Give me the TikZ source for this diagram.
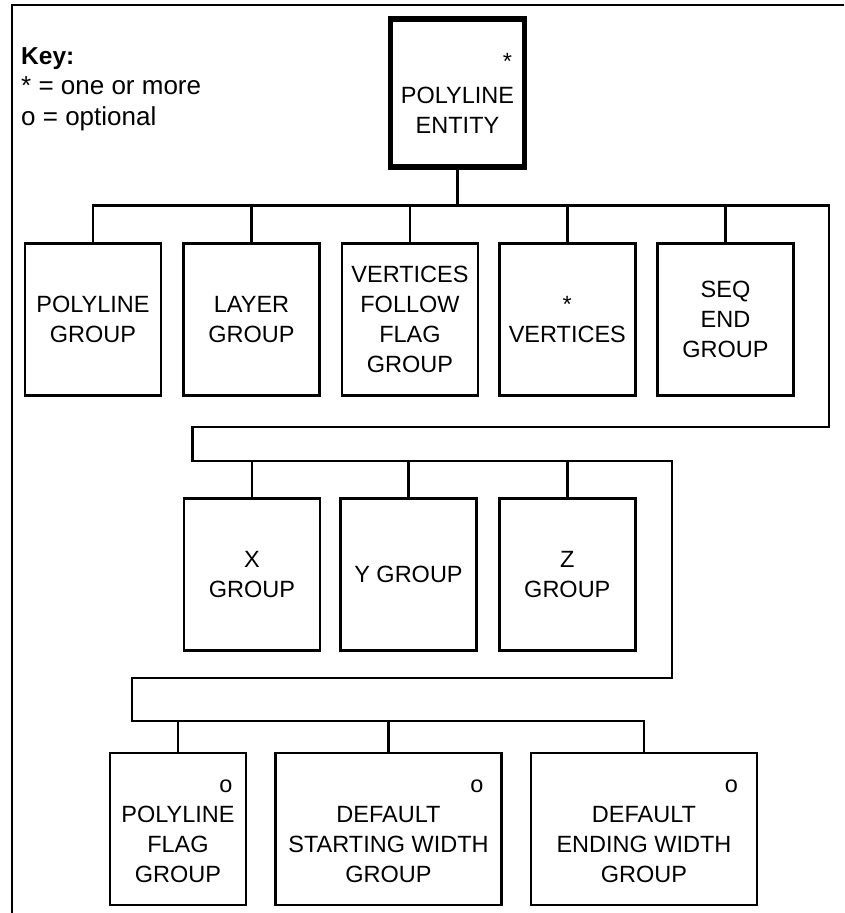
\documentclass[tikz,border=0pt]{standalone}
\usepackage{fontspec}
\setmainfont{Liberation Sans}
\newcommand\boxfont{\fontsize{23.5}{30}\selectfont}
\newcommand\keyfont{\fontsize{26}{30}\selectfont}
\newcommand\mrk[2]{\makebox[#1][r]{\vphantom{X}#2}}
\begin{document}
\begin{tikzpicture}[x=1pt,y=-1pt,
  conn/.style={line width=2.4pt},
  frame/.style={line width=2.6pt},
  box/.style={draw,line width=2.4pt,inner sep=0pt,align=center,font=\boxfont,
    minimum width=136pt,minimum height=152pt},
  wide/.style={minimum width=226pt},
  main/.style={draw,line width=5.5pt,inner sep=0pt,align=center,font=\boxfont,
    minimum width=134pt,minimum height=148pt},
  keytext/.style={anchor=base west,inner sep=0pt,font=\keyfont}]
\useasboundingbox (0,0) rectangle (844,913);
% outer frame
\draw[frame] (12,913) -- (12,5) -- (844,5);
% key
\node[keytext,font=\fontsize{24.5}{30}\selectfont\bfseries] (key) at (21,64) {Key:};
\node[keytext] (keyA) at (21,94.5) {* = one or more};
\node[keytext] (keyB) at (21,125) {o = optional};
% top
\node[main] (ent) at (457.5,93) {\mrk{109pt}{*}\\[4pt]POLYLINE\\ENTITY};
% row 1
\node[box] (pg) at (93,319.3) {POLYLINE\\GROUP};
\node[box] (lg) at (251.5,319.3) {LAYER\\GROUP};
\node[box] (vf) at (410,319.3) {VERTICES\\FOLLOW\\FLAG\\GROUP};
\node[box] (vx) at (567.3,319.3) {*\\VERTICES};
\node[box] (se) at (725.5,319.3) {SEQ\\END\\GROUP};
% row 2
\node[box] (xg) at (252,574.5) {X\\GROUP};
\node[box] (yg) at (408.5,574.5) {Y GROUP};
\node[box] (zg) at (567.3,574.5) {Z\\GROUP};
% row 3
\node[box] (pf) at (178,829.2) {\mrk{109pt}{o}\\POLYLINE\\FLAG\\GROUP};
\node[box,wide] (ds) at (388.5,829.2) {\mrk{190pt}{o}\\DEFAULT\\STARTING WIDTH\\GROUP};
\node[box,wide] (de) at (644,829.2) {\mrk{188pt}{o}\\DEFAULT\\ENDING WIDTH\\GROUP};
% bus corners
\coordinate (c1) at (829,205.3);
\coordinate (c2) at (829,427);
\coordinate (c3) at (192.5,427);
\coordinate (c4) at (192.5,460.7);
\coordinate (c5) at (672,460.7);
\coordinate (c6) at (672,678);
\coordinate (c7) at (132,678);
\coordinate (c8) at (132,721);
% main connector chain
\draw[conn] (pg.north) -- (pg.north |- c1) -- (c1) -- (c2) -- (c3) -- (c4)
  -- (c5) -- (c6) -- (c7) -- (c8) -- (c8 -| de.north) -- (de.north);
\draw[conn] (ent.south) -- (ent.south |- c1);
\foreach \n in {lg,vf,vx,se} \draw[conn] (\n.north) -- (\n.north |- c1);
\foreach \n in {xg,yg,zg} \draw[conn] (\n.north) -- (\n.north |- c4);
\foreach \n in {pf,ds} \draw[conn] (\n.north) -- (\n.north |- c8);
\end{tikzpicture}
\end{document}
